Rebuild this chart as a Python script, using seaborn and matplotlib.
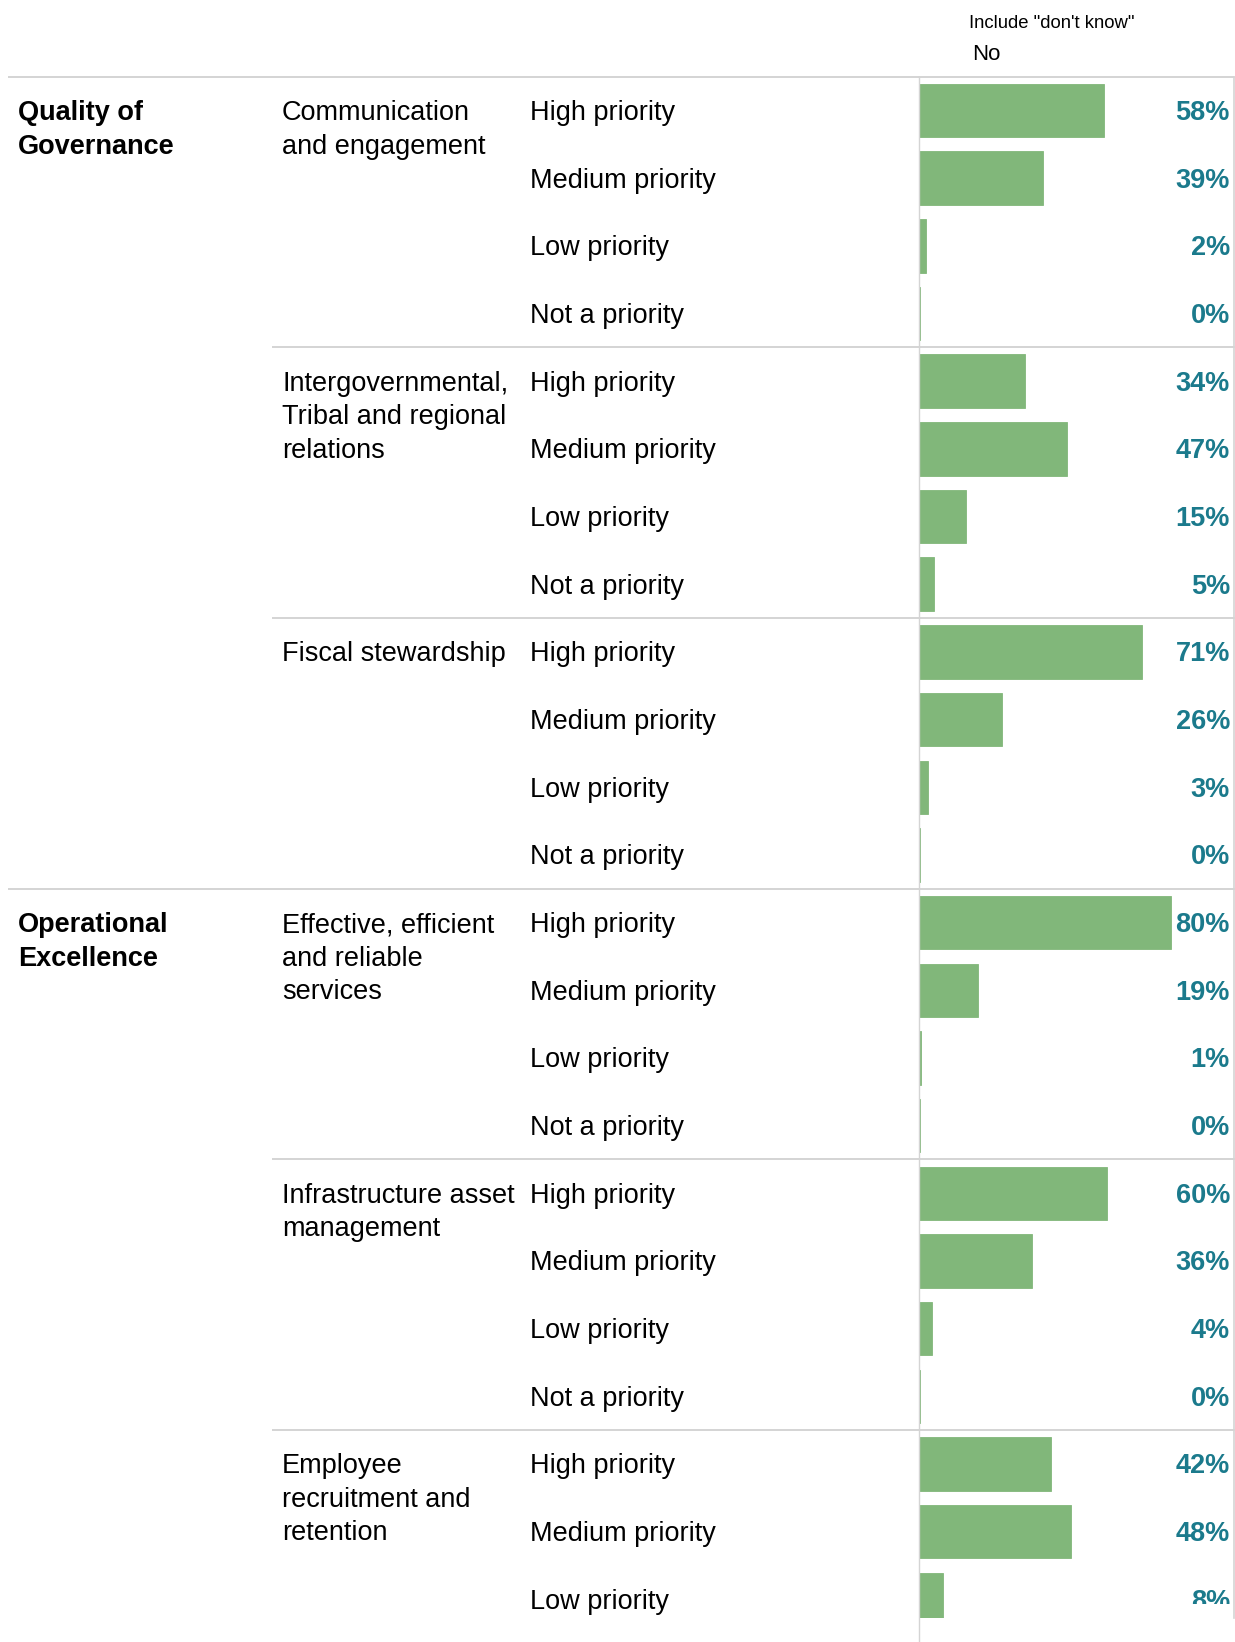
import numpy as np
import pandas as pd
import matplotlib
matplotlib.use("Agg")
import matplotlib.pyplot as plt
from matplotlib.lines import Line2D
from matplotlib.transforms import Bbox
import seaborn as sns

# Data (share of respondents, %)
sections = ["Quality of\nGovernance", "Operational\nExcellence"]
section_of_group = [0, 0, 0, 1, 1, 1]
topics = [
    "Communication\nand engagement",
    "Intergovernmental,\nTribal and regional\nrelations",
    "Fiscal stewardship",
    "Effective, efficient\nand reliable\nservices",
    "Infrastructure asset\nmanagement",
    "Employee\nrecruitment and\nretention",
]
levels = ["High priority", "Medium priority", "Low priority", "Not a priority"]
comm_engagement = [58.4, 39.1, 2.2, 0.4]
intergov_relations = [33.6, 46.8, 14.9, 4.6]
fiscal_stewardship = [70.6, 26.2, 2.7, 0.4]
reliable_services = [79.9, 18.6, 0.7, 0.4]
infrastructure = [59.6, 35.8, 4.0, 0.4]
employee_retention = [41.8, 48.1, 7.6]  # chart is cut off after this row

group_values = [comm_engagement, intergov_relations, fiscal_stewardship,
                reliable_services, infrastructure, employee_retention]

rows = []
for g, vals in enumerate(group_values):
    for k, v in enumerate(vals):
        rows.append({"row": f"{g}-{k}", "group": g, "level": levels[k], "value": v})
df = pd.DataFrame(rows)

sns.set_style("white")
plt.rcParams["font.family"] = ["Liberation Sans", "DejaVu Sans"]
plt.rcParams["text.color"] = "black"

W, H = 1235, 1642
top_px, row_px, bot_px = 76.7, 67.67, 1618
axis_px = 919
fs = 19.5
grid_col = "#d4d4d4"
bar_col = "#81b77a"
pct_col = "#1b7a8c"
dy = 2.5 / row_px  # small downward nudge for text

fig = plt.figure(figsize=(W / 100, H / 100), dpi=100)
ylo = -0.5 + (bot_px - top_px) / row_px
rect_y = 1 - bot_px / H
rect_h = (bot_px - top_px) / H

# bar panel
ax = fig.add_axes([axis_px / W, rect_y, (1234 - axis_px) / W, rect_h])
sns.barplot(data=df, x="value", y="row", orient="h", color=bar_col,
            width=0.79, saturation=1, edgecolor=bar_col, linewidth=0.6, ax=ax)
ax.set_xlim(0, 99.7)
ax.set_ylim(ylo, -0.5)
ax.set_xlabel("")
ax.set_ylabel("")
ax.set_xticks([])
ax.set_yticks([])
for s in ["top", "bottom", "left"]:
    ax.spines[s].set_visible(False)
ax.spines["right"].set_color(grid_col)
ax.spines["right"].set_linewidth(1.2)

clip = Bbox.from_extents(axis_px, H - 1604, W, H)
for i, v in enumerate(df["value"]):
    t = ax.text(0.987, i + dy, f"{v:.0f}%", transform=ax.get_yaxis_transform(),
                ha="right", va="center", fontsize=fs, fontweight="bold",
                color=pct_col, clip_on=True)
    t.set_clip_box(clip)

# label panel
lax = fig.add_axes([0, rect_y, axis_px / W, rect_h])
lax.set_xlim(0, axis_px)
lax.set_ylim(ylo, -0.5)
lax.axis("off")

line_step = 33.5 / row_px
start = 0
for g, vals in enumerate(group_values):
    new_section = g == 0 or section_of_group[g] != section_of_group[g - 1]
    if new_section:
        for j, line in enumerate(sections[section_of_group[g]].split("\n")):
            lax.text(18, start + j * line_step + dy, line, fontsize=fs,
                     fontweight="bold", va="center", ha="left")
    for j, line in enumerate(topics[g].split("\n")):
        lax.text(282, start + j * line_step + dy, line, fontsize=fs, va="center", ha="left")
    for k in range(len(vals)):
        lax.text(530, start + k + dy, levels[k], fontsize=fs, va="center", ha="left")
    # separators
    x0 = 8 if new_section else 272
    lax.hlines(start - 0.5, x0, axis_px, color=grid_col, lw=1.4, clip_on=False)
    ax.axhline(start - 0.5, color=grid_col, lw=1.4, clip_on=False)
    start += len(vals)

# vertical axis line down to the bottom edge
fig.add_artist(Line2D([axis_px / W] * 2, [0, 1 - top_px / H], color=grid_col, lw=1.0))

# header
fig.text(969 / W, 1 - 24 / H, 'Include "don\'t know"', fontsize=13.3, va="center", ha="left")
fig.text(972 / W, 1 - 54 / H, "No", fontsize=16, va="center", ha="left")

fig.savefig("out.png", dpi=100)
